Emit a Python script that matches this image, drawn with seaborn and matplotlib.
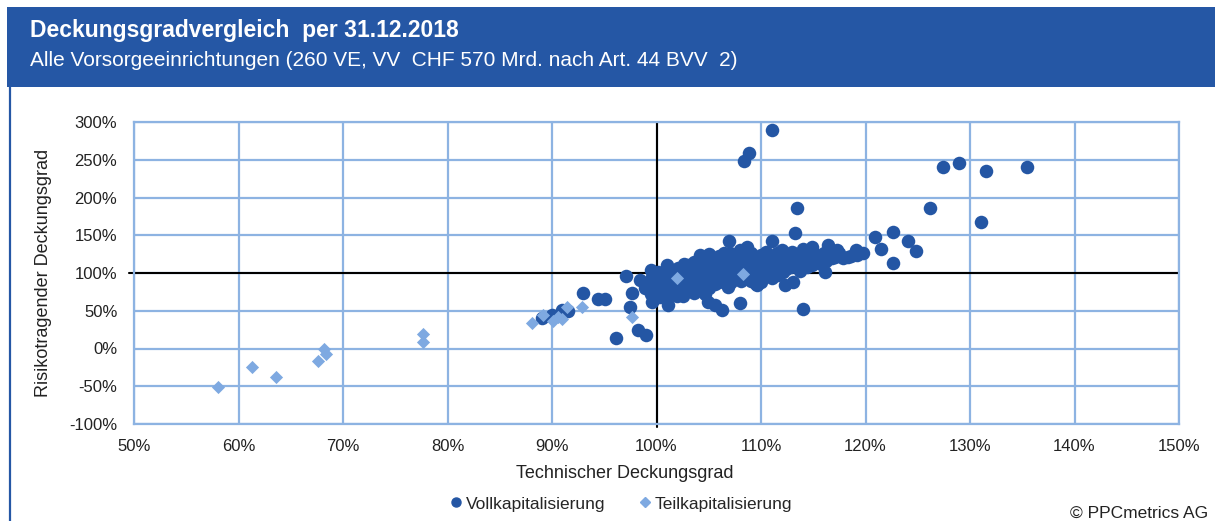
import matplotlib
matplotlib.use("Agg")
import matplotlib.pyplot as plt
from matplotlib.patches import Rectangle
from matplotlib.lines import Line2D
import seaborn as sns
import pandas as pd

# ---- data (in %) ----
teil_x = [58.0, 61.3, 63.6, 67.6, 68.2, 68.4, 77.7, 77.7, 88.1, 89.1, 90.1, 90.6,
          91.0, 91.4, 92.9, 97.7, 102.0, 108.3]
teil_y = [-51, -25, -38, -17, 0, -7, 19, 9, 34, 44, 37, 42,
          39, 55, 55, 42, 93, 99]

voll_out_x = [96.1, 98.2, 99.0, 97.5, 97.7, 97.1, 93.0, 94.4, 95.1, 91.0, 91.5, 89.0,
              90.0, 98.4, 98.9, 99.6, 101.1, 104.9, 105.6, 106.3, 108.0, 114.0, 108.4,
              108.85, 111.05, 113.4, 113.3, 106.9, 108.7, 111.05, 114.9, 127.4, 128.9,
              131.5, 135.45, 126.2, 131.05, 120.9, 122.6, 121.5, 124.1, 124.8, 122.6,
              119.3, 119.8, 116.1, 112.3, 113.1, 109.6]
voll_out_y = [14, 24.5, 18, 55, 73.5, 96, 73.5, 65.6, 65.6, 51, 50, 40,
              45, 90.7, 80, 62, 58, 62, 57, 51, 60, 52, 248,
              259, 289, 186, 153, 142, 134, 142, 134, 240, 246,
              235, 240, 186, 167.5, 148, 154, 132, 142, 129, 113,
              127, 126, 101, 84, 88, 84]

voll_cl_x = [99.5, 99.6, 99.4, 99.7, 99.5, 99.8,
             100.1, 100.0, 100.2, 100.1, 99.9, 100.3,
             100.6, 100.5, 100.7, 100.4, 100.6,
             101.0, 101.1, 100.9, 101.2, 101.0, 101.1,
             101.6, 101.5, 101.7, 101.4, 101.6,
             102.1, 102.0, 102.2, 101.9, 102.1, 102.0,
             102.6, 102.5, 102.7, 102.4, 102.6, 102.5,
             103.0, 103.1, 102.9, 103.2, 103.0,
             103.6, 103.5, 103.4, 103.7, 103.5, 103.6,
             104.2, 104.0, 104.1, 103.9, 104.2, 104.0,
             104.5, 104.6, 104.4, 104.7, 104.5, 104.6,
             105.0, 105.3, 105.1, 104.9, 105.2, 105.0,
             105.6, 105.5, 105.7, 105.4, 105.6,
             106.0, 106.2, 106.1, 105.9, 106.0,
             106.5, 106.7, 106.4, 106.6, 106.5, 106.8,
             107.0, 106.9, 107.2, 107.0, 107.1, 106.9,
             107.5, 107.6, 107.4, 107.7,
             108.0, 108.2, 108.1, 107.9, 108.1,
             108.6, 108.5, 108.7, 108.4, 108.6,
             109.0, 109.2, 108.9, 109.1, 109.0,
             109.5, 109.6, 109.4, 109.7, 109.5,
             110.0, 110.2, 110.1, 109.9, 110.0,
             110.5, 110.7, 110.4, 110.6,
             111.0, 111.2, 110.9, 111.1,
             111.5, 111.7, 111.4, 111.6,
             112.0, 112.2, 111.9, 112.1,
             112.5, 112.7, 112.4,
             113.0, 113.2, 112.9,
             113.6, 113.5, 113.7,
             114.0, 114.2,
             114.5, 114.7, 114.4,
             115.0, 115.2, 114.9,
             115.5, 115.7,
             116.0, 116.4, 116.2,
             116.6, 116.8,
             117.3, 117.1,
             117.5, 117.8,
             118.3, 118.6,
             119.1, 119.2]
voll_cl_y = [104, 95, 88, 80, 72, 66,
             101, 97, 92, 85, 76, 68,
             99, 92, 84, 78, 70,
             110, 103, 96, 88, 80, 74,
             100, 93, 86, 78, 72,
             106, 98, 90, 83, 75, 69,
             112, 104, 95, 87, 79, 70,
             110, 100, 92, 84, 76,
             115, 106, 97, 89, 81, 74,
             124, 112, 103, 95, 86, 78,
             118, 108, 99, 91, 83, 72,
             125, 114, 105, 96, 88, 80,
             118, 110, 101, 93, 85,
             122, 113, 104, 96, 88,
             127, 117, 108, 99, 91, 82,
             126, 115, 106, 97, 88, 92,
             120, 111, 102, 93,
             130, 118, 109, 100, 90,
             126, 122, 112, 103, 94,
             126, 116, 107, 98, 90,
             120, 111, 102, 93, 86,
             124, 115, 106, 97, 88,
             128, 118, 109, 100,
             122, 112, 103, 94,
             126, 116, 107, 98,
             130, 120, 110, 101,
             124, 114, 105,
             128, 118, 108,
             122, 112, 103,
             132, 118,
             124, 113, 108,
             128, 118, 110,
             122, 112,
             126, 137, 116,
             130, 120,
             130, 121,
             127, 120,
             121, 123,
             130, 124]

# ---- styling ----
DARK = "#2456A4"
LIGHT = "#7EA9E1"
GRID = "#8DB3E2"
HEADER = "#2557A5"
TXT = "#222222"

voll_x = voll_out_x + voll_cl_x
voll_y = voll_out_y + voll_cl_y
df_voll = pd.DataFrame({"tech": voll_x, "risk": voll_y})
df_teil = pd.DataFrame({"tech": teil_x, "risk": teil_y})

sns.set_theme(style="white")
plt.rcParams["font.family"] = ["Liberation Sans", "DejaVu Sans"]

fig = plt.figure(figsize=(12.15, 5.21), dpi=100)
fig.patch.set_facecolor("white")

# header band
fig.patches.append(Rectangle((7 / 1215, 1 - 87 / 521), 1 - 7 / 1215, 80 / 521,
                             transform=fig.transFigure, facecolor=HEADER,
                             edgecolor="none", zorder=0))
fig.add_artist(Line2D([10 / 1215, 10 / 1215], [0, 1 - 87 / 521],
                      transform=fig.transFigure, color=HEADER, lw=1.6))
fig.text(30 / 1215, 1 - 31 / 521, "Deckungsgradvergleich  per 31.12.2018",
         color="white", fontsize=16.5, fontweight="bold", va="center", ha="left")
fig.text(30 / 1215, 1 - 61 / 521,
         "Alle Vorsorgeeinrichtungen (260 VE, VV  CHF 570 Mrd. nach Art. 44 BVV  2)",
         color="white", fontsize=15, va="center", ha="left")

ax = fig.add_axes([134 / 1215, 1 - 424 / 521, (1179 - 134) / 1215, 302 / 521])

sns.scatterplot(data=df_voll, x="tech", y="risk", ax=ax, color=DARK, marker="o",
                s=95, linewidth=0, zorder=3)
sns.scatterplot(data=df_teil, x="tech", y="risk", ax=ax, color=LIGHT, marker="D",
                s=45, linewidth=0, zorder=4)

ax.set_xlim(50, 150)
ax.set_ylim(-100, 300)
xt = list(range(50, 151, 10))
yt = list(range(-100, 301, 50))
ax.set_xticks(xt)
ax.set_yticks(yt)
ax.set_xticklabels([f"{v}%" for v in xt], fontsize=12, color=TXT)
ax.set_yticklabels([f"{v}%" for v in yt], fontsize=12, color=TXT)
ax.tick_params(axis="x", length=0, pad=11)
ax.tick_params(axis="y", length=0, pad=12)
ax.grid(True, color=GRID, lw=1.6, zorder=0)
ax.set_axisbelow(True)
for sp in ax.spines.values():
    sp.set_color(GRID)
    sp.set_linewidth(1.6)
ax.axhline(100, color="black", lw=1.5, zorder=2)
ax.axvline(100, color="black", lw=1.5, zorder=2)
ax.plot([49.5, 50], [100, 100], color="black", lw=1.5, clip_on=False)
ax.plot([100, 100], [-100, -104], color="black", lw=1.5, clip_on=False)

ax.set_xlabel("Technischer Deckungsgrad", fontsize=13, color=TXT)
ax.set_ylabel("Risikotragender Deckungsgrad", fontsize=13, color=TXT)
ax.xaxis.set_label_coords((625 - 134) / 1045, (424 - 473) / 302)
ax.yaxis.set_label_coords((44 - 134) / 1045, 0.5)
ax.xaxis.label.set_va("center")
ax.yaxis.label.set_va("center")

handles = [Line2D([], [], marker="o", color=DARK, linestyle="none", markersize=6.5),
           Line2D([], [], marker="D", color=LIGHT, linestyle="none", markersize=5)]
fig.legend(handles, ["Vollkapitalisierung", "Teilkapitalisierung"],
           loc="center", bbox_to_anchor=(620 / 1215, 1 - 504 / 521), ncol=2,
           frameon=False, fontsize=12.5, handletextpad=0.05, columnspacing=1.8,
           handlelength=1.0)
fig.text(1208 / 1215, 1 - 513 / 521, "© PPCmetrics AG", fontsize=12.5,
         ha="right", va="center", color=TXT)

fig.savefig("out.png", dpi=100)
